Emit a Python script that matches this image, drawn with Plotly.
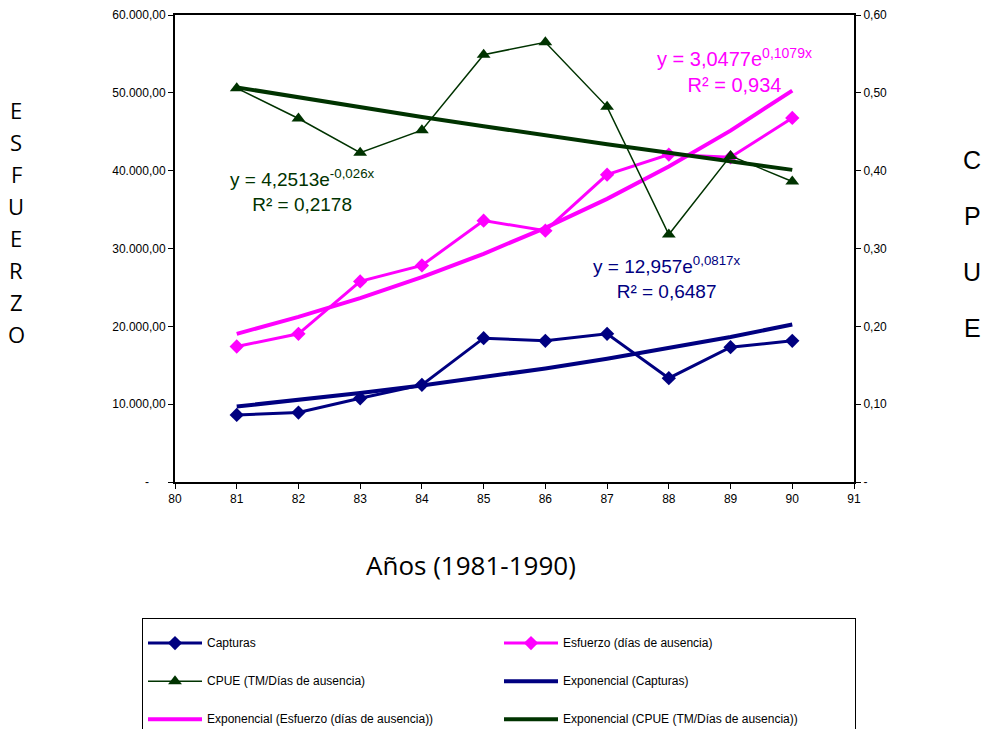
import plotly.graph_objects as go

# ---------------- data ----------------
years = [81, 82, 83, 84, 85, 86, 87, 88, 89, 90]
capturas = [8620, 8920, 10760, 12480, 18480, 18140, 19040, 13340, 17320, 18140]
esfuerzo = [17410, 19040, 25770, 27830, 33580, 32290, 39490, 42070, 41720, 46780]
cpue = [0.506, 0.467, 0.423, 0.452, 0.549, 0.565, 0.482, 0.318, 0.419, 0.386]

trend_capturas = [9700, 10530, 11420, 12390, 13450, 14590, 15830, 17180, 18640, 20230]
trend_esfuerzo = [19040, 21210, 23630, 26320, 29320, 32660, 36380, 40530, 45140, 50290]
trend_cpue = [0.507, 0.494, 0.481, 0.469, 0.457, 0.445, 0.434, 0.423, 0.412, 0.401]

series_names = [
    "Capturas",
    "Esfuerzo (días de ausencia)",
    "CPUE (TM/Días de ausencia)",
    "Exponencial (Capturas)",
    "Exponencial (Esfuerzo (días de ausencia))",
    "Exponencial (CPUE (TM/Días de ausencia))",
]

x_ticks = [80, 81, 82, 83, 84, 85, 86, 87, 88, 89, 90, 91]
left_ticks = [0, 10000, 20000, 30000, 40000, 50000, 60000]
left_ticktext = ["-\u00a0\u00a0\u00a0\u00a0\u00a0", "10.000,00", "20.000,00", "30.000,00",
                 "40.000,00", "50.000,00", "60.000,00"]
right_ticks = [0, 0.1, 0.2, 0.3, 0.4, 0.5, 0.6]
right_ticktext = ["-", "0,10", "0,20", "0,30", "0,40", "0,50", "0,60"]

eq_esfuerzo = "y = 3,0477e<sup>0,1079x</sup><br>R² = 0,934"
eq_cpue = "y = 4,2513e<sup>-0,026x</sup><br>R² = 0,2178"
eq_capturas = "y = 12,957e<sup>0,0817x</sup><br>R² = 0,6487"

left_title = ["E", "S", "F", "U", "E", "R", "Z", "O"]
right_title = ["C", "P", "U", "E"]
x_title = "Años (1981-1990)"

# ---------------- styling ----------------
NAVY = "#000080"
MAGENTA = "#FF00FF"
GREEN = "#003300"
FONT = "Liberation Sans, Arial, sans-serif"


def legname(s):
    return "<br><span style='font-size:12px'>" + s + "</span><br>"


fig = go.Figure()

fig.add_trace(go.Scatter(x=years, y=capturas, name=legname(series_names[0]), mode="lines+markers",
                         line=dict(color=NAVY, width=3),
                         marker=dict(symbol="diamond", size=11, color=NAVY)))
fig.add_trace(go.Scatter(x=years, y=esfuerzo, name=legname(series_names[1]), mode="lines+markers",
                         line=dict(color=MAGENTA, width=3),
                         marker=dict(symbol="diamond", size=11, color=MAGENTA)))
fig.add_trace(go.Scatter(x=years, y=cpue, name=legname(series_names[2]), mode="lines+markers",
                         yaxis="y2", line=dict(color=GREEN, width=1.5),
                         marker=dict(symbol="triangle-up", size=12, color=GREEN)))
fig.add_trace(go.Scatter(x=years, y=trend_capturas, name=legname(series_names[3]), mode="lines",
                         line=dict(color=NAVY, width=4)))
fig.add_trace(go.Scatter(x=years, y=trend_esfuerzo, name=legname(series_names[4]), mode="lines",
                         line=dict(color=MAGENTA, width=4)))
fig.add_trace(go.Scatter(x=years, y=trend_cpue, name=legname(series_names[5]), mode="lines",
                         yaxis="y2", line=dict(color=GREEN, width=4)))

# plot area in page pixels: x 175..854, y 15..482
def px_to_paper_x(px):
    return (px - 175) / 679.0


def px_to_paper_y(py):
    return (482 - py) / 467.0


annotations = [
    dict(x=89.07, y=52900, xref="x", yref="y", text=eq_esfuerzo, showarrow=False,
         font=dict(family=FONT, size=20, color=MAGENTA), align="center",
         xanchor="center", yanchor="middle"),
    dict(x=82.07, y=37400, xref="x", yref="y", text=eq_cpue, showarrow=False,
         font=dict(family=FONT, size=19, color=GREEN), align="center",
         xanchor="center", yanchor="middle"),
    dict(x=87.97, y=26300, xref="x", yref="y", text=eq_capturas, showarrow=False,
         font=dict(family=FONT, size=19, color=NAVY), align="center",
         xanchor="center", yanchor="middle"),
    dict(x=px_to_paper_x(471), y=px_to_paper_y(565), xref="paper", yref="paper", text=x_title,
         showarrow=False, xanchor="center", yanchor="middle",
         font=dict(family="Open Sans, sans-serif", size=26, color="black")),
]

for i, ch in enumerate(left_title):
    annotations.append(dict(x=px_to_paper_x(16), y=px_to_paper_y(110 + 32 * i), xref="paper", yref="paper",
                            text=ch, showarrow=False, xanchor="center", yanchor="middle",
                            font=dict(family="Open Sans, sans-serif", size=22, color="black")))
for i, ch in enumerate(right_title):
    annotations.append(dict(x=px_to_paper_x(972), y=px_to_paper_y(160 + 56 * i), xref="paper", yref="paper",
                            text=ch, showarrow=False, xanchor="center", yanchor="middle",
                            font=dict(family=FONT, size=25, color="black")))

# the page body adds an 8px offset, so the margins are reduced by 8px
fig.update_layout(
    width=992, height=729, autosize=False,
    margin=dict(l=167, r=146, t=7, b=255, autoexpand=False),
    paper_bgcolor="white", plot_bgcolor="white",
    separators=",.",
    font=dict(family=FONT, size=12, color="black"),
    annotations=annotations,
    showlegend=True,
    legend=dict(orientation="h", x=px_to_paper_x(142), y=px_to_paper_y(618),
                xanchor="left", yanchor="top", bordercolor="black", borderwidth=1,
                bgcolor="white", font=dict(family=FONT, size=9, color="black"),
                itemwidth=54, entrywidth=287, entrywidthmode="pixels"),
    xaxis=dict(range=[80, 91], tickvals=x_ticks, ticks="outside", ticklen=5, tickwidth=1,
               tickcolor="black", showline=True, linewidth=2, linecolor="black", mirror=True,
               showgrid=False, zeroline=False, tickfont=dict(size=12)),
    yaxis=dict(range=[0, 60000], tickvals=left_ticks, ticktext=left_ticktext, ticks="outside",
               ticklen=5, tickwidth=1, tickcolor="black", showline=True, linewidth=2,
               linecolor="black", showgrid=False, zeroline=False, tickfont=dict(size=12)),
    yaxis2=dict(range=[0, 0.6], tickvals=right_ticks, ticktext=right_ticktext, overlaying="y",
                side="right", ticks="outside", ticklen=5, tickwidth=1, tickcolor="black",
                showline=True, linewidth=2, linecolor="black", showgrid=False, zeroline=False,
                tickfont=dict(size=12)),
)

fig.write_html("out.html")
